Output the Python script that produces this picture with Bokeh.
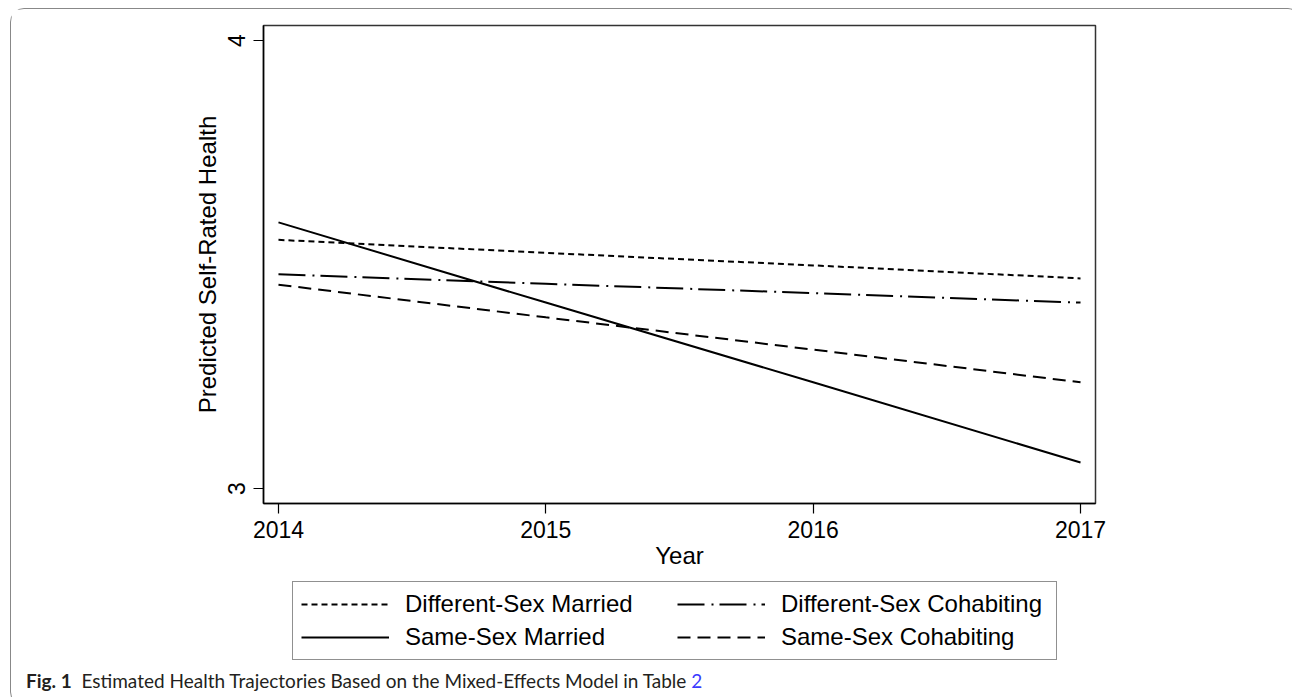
from bokeh.plotting import figure
from bokeh.models import Legend, LegendItem, Range1d, FixedTicker, Div
from bokeh.layouts import column
from bokeh.embed import file_html
from bokeh.resources import INLINE

# ---- data ----
years = [2014, 2015, 2016, 2017]
diff_sex_married = [3.555, 3.526, 3.498, 3.469]
diff_sex_cohabiting = [3.478, 3.457, 3.436, 3.415]
same_sex_married = [3.594, 3.415, 3.237, 3.058]
same_sex_cohabiting = [3.455, 3.382, 3.310, 3.237]
series_labels = ["Different-Sex Married", "Different-Sex Cohabiting",
                 "Same-Sex Married", "Same-Sex Cohabiting"]
x_ticks = [2014, 2015, 2016, 2017]
y_ticks = [3, 4]
x_label = "Year"
y_label = "Predicted Self-Rated Health"

FONT = "Liberation Sans"
STYLES = {
    "Different-Sex Married": dict(line_dash="6 4"),
    "Different-Sex Cohabiting": dict(line_dash="27 7 2 6"),
    "Same-Sex Married": dict(line_dash="solid"),
    "Same-Sex Cohabiting": dict(line_dash="13 7"),
}
series_values = {
    "Different-Sex Married": diff_sex_married,
    "Different-Sex Cohabiting": diff_sex_cohabiting,
    "Same-Sex Married": same_sex_married,
    "Same-Sex Cohabiting": same_sex_cohabiting,
}

p = figure(frame_width=832, frame_height=478,
           x_range=Range1d(2013.944, 2017.056), y_range=Range1d(2.9665, 4.0335),
           output_backend="svg", toolbar_location=None, title=None,
           min_border_left=252, min_border_right=196, min_border_top=16, min_border_bottom=70)
p.background_fill_color = "white"
p.border_fill_color = "white"
p.outline_line_color = "#333333"
p.outline_line_width = 1.5
p.xgrid.visible = False
p.ygrid.visible = False

for name in series_labels:
    p.line(years, series_values[name], line_color="black", line_width=2, **STYLES[name])

for ax in (p.xaxis[0], p.yaxis[0]):
    ax.axis_line_color = "black"
    ax.axis_line_width = 1.5
    ax.major_tick_line_color = "black"
    ax.major_tick_line_width = 1.2
    ax.major_tick_in = 0
    ax.major_tick_out = 10
    ax.minor_tick_line_color = None
    ax.major_label_text_font = FONT
    ax.major_label_text_font_size = "23px"
    ax.major_label_text_color = "black"
    ax.axis_label_text_font = FONT
    ax.axis_label_text_font_size = "24px"
    ax.axis_label_text_font_style = "normal"
    ax.axis_label_text_color = "black"

p.xaxis.ticker = FixedTicker(ticks=x_ticks)
p.yaxis.ticker = FixedTicker(ticks=y_ticks)
p.xaxis.axis_label = x_label
p.yaxis.axis_label = y_label
p.xaxis.major_label_standoff = 7
p.xaxis.axis_label_standoff = 1
p.yaxis.major_label_orientation = "vertical"
p.yaxis.major_label_standoff = 8
p.yaxis.axis_label_standoff = 5

# ---- legend strip (separate canvas; its series lie outside its ranges, only the legend shows) ----
lg = figure(width=1280, height=96, x_range=Range1d(0, 1), y_range=Range1d(0, 1),
            x_axis_type=None, y_axis_type=None, output_backend="svg",
            toolbar_location=None, title=None, min_border=0)
lg.outline_line_color = None
lg.xgrid.visible = False
lg.ygrid.visible = False
lg_renderers = {name: lg.line(years, series_values[name], line_color="black", line_width=2,
                              **STYLES[name])
                for name in series_labels}

order = [series_labels[0], series_labels[2], series_labels[1], series_labels[3]]
legend = Legend(items=[LegendItem(label=n, renderers=[lg_renderers[n]]) for n in order],
                ncols=2, location=(29, 9))
legend.border_line_color = "#222222"
legend.border_line_width = 1.5
legend.label_text_font = FONT
legend.label_text_font_size = "24px"
legend.label_text_color = "black"
legend.glyph_width = 88
legend.glyph_height = 20
legend.label_standoff = 16
legend.label_width = 267
legend.padding = 8
legend.spacing = 5
legend.margin = 0
legend.background_fill_alpha = 1
lg.add_layout(legend)

caption = Div(
    text=('<span style="font-weight:bold">Fig.&nbsp;1</span>&nbsp;&nbsp;Estimated Health Trajectories '
          'Based on the Mixed-Effects Model in Table <span style="color:#3b3bff">2</span>'),
    width=1280, height=26,
    styles={"font-family": "Lato", "font-size": "19px", "color": "#231f20",
            "padding-left": "10px", "line-height": "14px"})

layout = column(p, lg, caption, margin=(8, 0, 0, 10),
                styles={"border": "1px solid #888888", "border-radius": "14px",
                        "background-color": "white"})

open("out.html", "w").write(file_html(layout, INLINE))
